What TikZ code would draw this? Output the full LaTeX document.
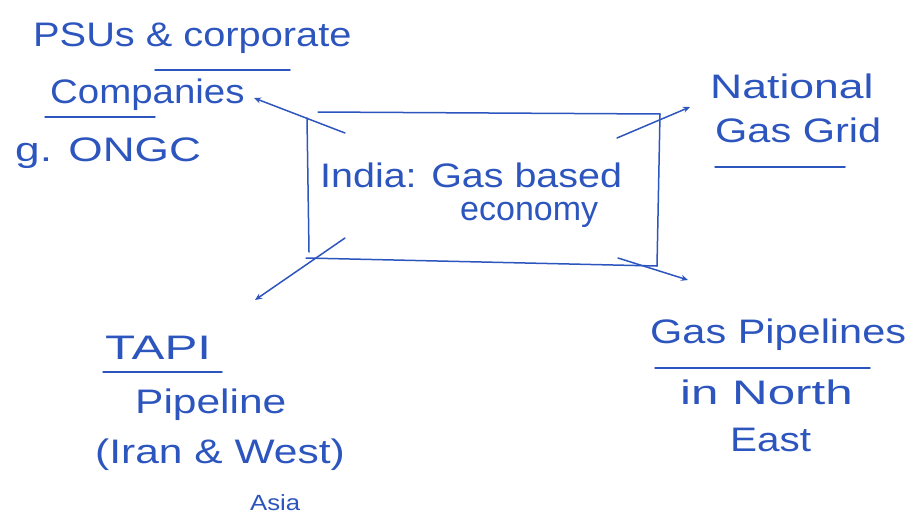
\documentclass[tikz,border=0pt]{standalone}
\usepackage{fontspec}
\setmainfont{Liberation Sans}
\usetikzlibrary{arrows.meta}
\definecolor{ink}{RGB}{45,85,190}
% stretch a handwritten-width label horizontally
\newcommand\wide[2]{\scalebox{#1}[1]{#2}}
\tikzset{
  ink/.style={draw=ink, line width=1.5pt, line cap=round},
  link/.style={ink, -{Stealth[length=7pt,width=6pt]}},
  hand/.style={text=ink, inner sep=0pt, anchor=west, font=\fontsize{34}{38}\selectfont},
  small/.style={hand, font=\fontsize{22}{24}\selectfont}
}
\begin{document}
\begin{tikzpicture}[x=1pt,y=-1pt]
\useasboundingbox (0,0) rectangle (907,525);
% central box, drawn as four loose strokes
\draw[ink] (307,118) -- (309,252);
\draw[ink] (318,112) -- (660,114);
\draw[ink] (660,114) -- (657,266);
\draw[ink] (306,258) -- (657,266);
\node[hand] (india) at (320,175) {\wide{1.16}{India: Gas based}};
\node[hand] (econ) at (460,215) {\wide{1.0}{economy}};
% outer labels
\node[hand] (psu) at (33,38) {\wide{1.17}{PSUs \& corporate}};
\node[hand] (comp) at (50,95) {\wide{1.13}{Companies}};
\node[hand] (ongc) at (15,153) {\wide{1.3}{g. ONGC}};
\draw[ink] (155,70) -- (290,70);
\draw[ink] (45,117) -- (155,117);
\node[hand] (nat) at (710,86) {\wide{1.31}{National}};
\node[hand] (grid) at (715,130) {\wide{1.22}{Gas Grid}};
\draw[ink] (715,167) -- (845,167);
\node[hand] (tapi) at (105,348) {\wide{1.45}{TAPI}};
\draw[ink] (103,372) -- (222,372);
\node[hand] (pipe) at (135,405) {\wide{1.25}{Pipeline}};
\node[hand] (iran) at (95,455) {\wide{1.25}{(Iran \& West)}};
\node[small] (asia) at (250,503) {\wide{1.17}{Asia}};
\node[hand] (gas) at (650,335) {\wide{1.22}{Gas Pipelines}};
\draw[ink] (655,368) -- (870,368);
\node[hand] (north) at (680,392) {\wide{1.45}{in North}};
\node[hand] (east) at (730,440) {\wide{1.19}{East}};
% connectors leaving the box
\coordinate (a1) at (345,133);
\coordinate (a2) at (617,138);
\coordinate (a3) at (345,238);
\coordinate (a4) at (618,258);
\coordinate (t1) at (254,98);
\coordinate (t2) at (690,107);
\coordinate (t3) at (255,300);
\coordinate (t4) at (688,280);
\draw[link] (a1) -- (t1);
\draw[link] (a2) -- (t2);
\draw[link] (a3) -- (t3);
\draw[link] (a4) -- (t4);
\end{tikzpicture}
\end{document}
